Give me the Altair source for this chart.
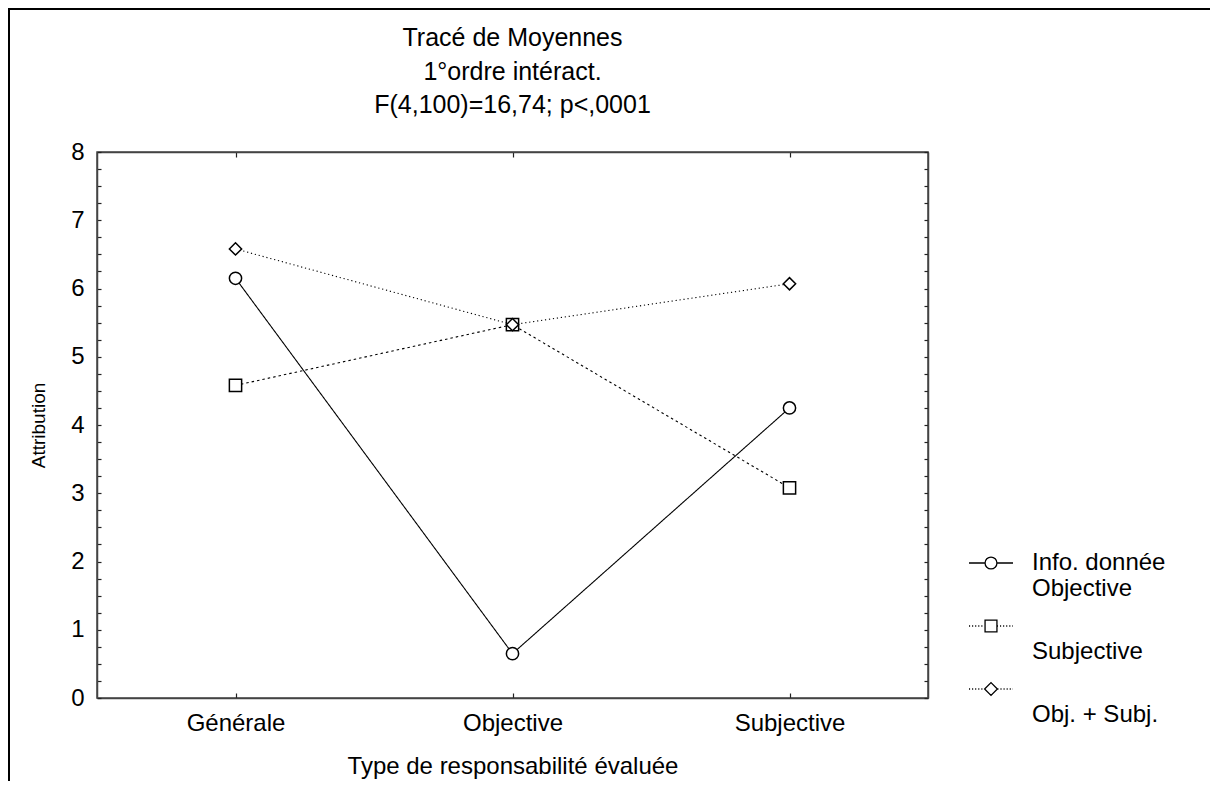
import altair as alt
import pandas as pd

# ---------------- data ----------------
categories = ["Générale", "Objective", "Subjective"]
series = ["Objective", "Subjective", "Obj. + Subj."]
vals_objective = [6.15, 0.65, 4.25]
vals_subjective = [4.58, 5.47, 3.08]
vals_objsubj = [6.58, 5.47, 6.07]
title_lines = ["Tracé de Moyennes", "1°ordre intéract.", "F(4,100)=16,74; p<,0001"]
legend_title = "Info. donnée"
x_title = "Type de responsabilité évaluée"
y_title = "Attribution"
y_tick_values = [0, 0.25, 0.5, 0.75, 1, 1.25, 1.5, 1.75, 2, 2.25, 2.5, 2.75, 3, 3.25, 3.5, 3.75,
                 4, 4.25, 4.5, 4.75, 5, 5.25, 5.5, 5.75, 6, 6.25, 6.5, 6.75, 7, 7.25, 7.5, 7.75, 8]

rows = []
for s, vals in zip(series, [vals_objective, vals_subjective, vals_objsubj]):
    for c, v in zip(categories, vals):
        rows.append({"series": s, "category": c, "value": v})
df = pd.DataFrame(rows)

FONT = "Liberation Sans"
FS = 24
W, H = 831, 546
PAD = {"left": 89, "top": 144, "right": 282, "bottom": 83}


# ---------------- legend symbol paths (line + marker) ----------------
def dotted(x0, x1, step=0.14, dot=0.05):
    parts = []
    x = x0
    while x < x1 - 1e-9:
        parts.append(f"M{x:.3f},0L{min(x + dot, x1):.3f},0")
        x += step
    return "".join(parts)


r = 0.27
circle_sym = (f"M-1,0L{-r},0M{r},0L1,0"
              f"M{r},0A{r},{r},0,1,1,{-r},0A{r},{r},0,1,1,{r},0Z")
square_sym = (dotted(-1, -r) + dotted(r, 1) +
              f"M{-r},{-r}L{r},{-r}L{r},{r}L{-r},{r}Z")
d = 0.29
diamond_sym = (dotted(-1, -d) + dotted(d, 1) +
               f"M{-d},0L0,{-d}L{d},0L0,{d}Z")

x_scale = alt.Scale(type="point", domain=categories, padding=0.5)
y_scale = alt.Scale(domain=[0, 8], nice=False, zero=False)

bottom_axis = alt.Axis(orient="bottom", title=x_title, labelAngle=0,
                       tickSize={"expr": "-5"}, labelPadding=18.5,
                       titlePadding=19, labelBaseline="top")
left_axis = alt.Axis(orient="left", title=y_title, values=y_tick_values,
                     labelExpr="datum.value % 1 == 0 ? datum.label : ''",
                     format=".0f", labelOverlap=False, labelFlush=False,
                     tickSize={"expr": "-4"}, labelPadding=17, titlePadding=22,
                     titleFontSize=19)
top_axis = alt.Axis(orient="top", title=None, labels=False, tickSize={"expr": "-5"})
right_axis = alt.Axis(orient="right", title=None, labels=False, values=y_tick_values,
                      tickSize={"expr": "-4"})

base = alt.Chart(df)

lines = base.mark_line(color="black", strokeWidth=1.1).encode(
    x=alt.X("category:N", scale=x_scale, axis=bottom_axis, sort=categories),
    y=alt.Y("value:Q", scale=y_scale, axis=left_axis),
    strokeDash=alt.StrokeDash("series:N", scale=alt.Scale(domain=series,
                              range=[[1, 0], [2.5, 3], [1.2, 2.8]]), legend=None),
    detail="series:N",
)

points = base.mark_point(filled=True, fill="white", stroke="black",
                         strokeWidth=1.5, size=150, opacity=1).encode(
    x=alt.X("category:N", scale=x_scale, axis=top_axis, sort=categories),
    y=alt.Y("value:Q", scale=y_scale, axis=right_axis),
    shape=alt.Shape("series:N", scale=alt.Scale(domain=series,
                    range=["circle", "square", "diamond"]), legend=None),
)

label_expr = (f"datum.label == '{series[0]}' ? ['{legend_title}', datum.label] "
              f": ['', datum.label]")

legend_layer = base.transform_filter("false").mark_point(
    filled=False, color="black", strokeWidth=1.3, size=1936
).encode(
    x=alt.X("category:N", scale=x_scale, axis=None, sort=categories),
    y=alt.Y("value:Q", scale=y_scale, axis=None),
    shape=alt.Shape("series:N",
                    scale=alt.Scale(domain=series,
                                    range=[circle_sym, square_sym, diamond_sym]),
                    legend=alt.Legend(title=None, orient="none", legendX=871, legendY=388,
                                      padding=0, rowPadding=2, labelOffset=18,
                                      labelExpr=label_expr, labelFont=FONT,
                                      labelFontSize=FS,
                                      labelColor="black", labelLimit=0,
                                      labelBaseline="middle",
                                      symbolSize=1936, symbolOpacity=1,
                                      symbolStrokeColor="black",
                                      symbolStrokeWidth=1.3)),
)

frame_src = alt.Chart(pd.DataFrame({"k": [0]}))
frame_left = frame_src.mark_rule(color="black", strokeWidth=2).encode(
    x=alt.value(-88), y=alt.value(-PAD["top"]), y2=alt.value(H + PAD["bottom"]))
frame_top = frame_src.mark_rule(color="black", strokeWidth=2).encode(
    y=alt.value(-PAD["top"] + 1), x=alt.value(-PAD["left"]), x2=alt.value(W + PAD["right"]))

chart = alt.layer(lines, points, legend_layer, frame_left, frame_top).resolve_scale(
    shape="independent"
).properties(
    width=W, height=H,
    title=alt.Title(text=title_lines, anchor="middle", frame="group", font=FONT,
                    fontSize=25, fontWeight="normal", lineHeight=33.5, offset=-111,
                    color="black"),
    autosize=alt.AutoSizeParams(type="none"),
    padding=PAD,
    background="white",
).configure_view(
    stroke="#444", strokeWidth=1.5
).configure_axis(
    labelFont=FONT, titleFont=FONT, labelFontSize=FS, titleFontSize=FS,
    labelColor="black", titleColor="black", titleFontWeight="normal",
    domainColor="#444", domainWidth=1.5, tickColor="#222", tickWidth=1.2,
    grid=False,
)

chart.save("out.html", embed_options={"renderer": "svg", "actions": False})
